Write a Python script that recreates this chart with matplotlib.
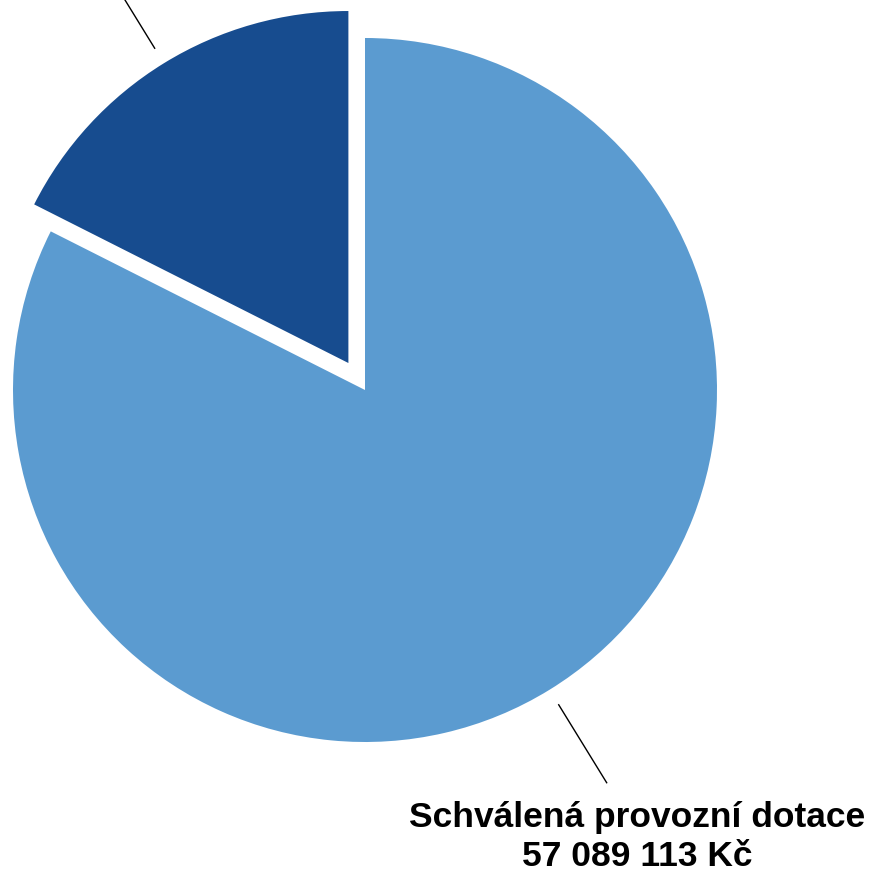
import numpy as np
import matplotlib
matplotlib.use("Agg")
import matplotlib.pyplot as plt

# data
labels = ['Ostatní', 'Schválená provozní dotace']
values = [12160000, 57089113]
colors = ['#174C8F', '#5B9BD0']
explode = [0.09, 0]

plt.rcParams['font.family'] = ['Liberation Sans', 'DejaVu Sans']

fig = plt.figure(figsize=(8.70, 8.73), dpi=100)
ax = fig.add_axes([0, 0, 1, 1])
ax.axis('off')

wedges, _ = ax.pie(values, colors=colors, explode=explode, startangle=90,
                   counterclock=True, radius=1.0)

ax.set_xlim(-365 / 352, (870 - 365) / 352)
ax.set_ylim(-(873 - 390) / 352, 390 / 352)
ax.set_aspect('equal')

# leader lines
for i, w in enumerate(wedges):
    ang = np.deg2rad((w.theta1 + w.theta2) / 2)
    cx, cy = w.center
    x0, y0 = cx + 1.05 * np.cos(ang), cy + 1.05 * np.sin(ang)
    x1, y1 = cx + 1.31 * np.cos(ang), cy + 1.31 * np.sin(ang)
    ax.plot([x0, x1], [y0, y1], color='black', lw=1)

# label of the big slice
ax.text(0.774, -1.270, 'Schválená provozní dotace\n{:,} Kč'.format(values[1]).replace(',', ' '),
        ha='center', va='center', fontsize=25.5, fontweight='bold',
        linespacing=1.2)

fig.savefig('out.png', dpi=100)
